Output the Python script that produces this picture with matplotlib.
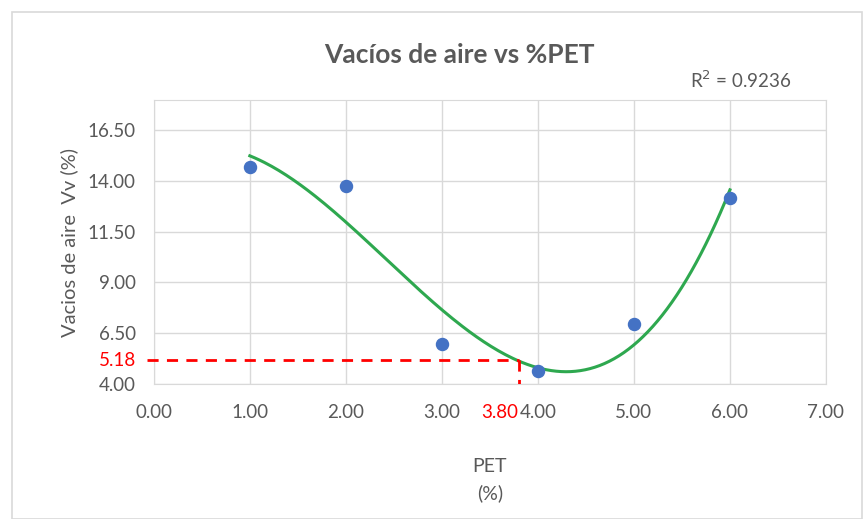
import numpy as np
import matplotlib
matplotlib.use("Agg")
import matplotlib.pyplot as plt
from matplotlib.patches import Rectangle

plt.rcParams['font.family'] = ['Lato', 'DejaVu Sans']

pet = [1.0, 2.0, 3.0, 4.0, 5.0, 6.0]
vacios = [14.69, 13.75, 5.96, 4.64, 6.94, 13.17]
x_ticks = [0, 1, 2, 3, 4, 5, 6, 7]
y_ticks = [4.0, 6.5, 9.0, 11.5, 14.0, 16.5]
opt_x = 3.80
opt_y = 5.18
r2_text = "R$^2$ = 0.9236"

fig = plt.figure(figsize=(8.64, 5.19), dpi=100)
ax = fig.add_axes([0.178, 0.260, 0.778, 0.547])

gray = '#595959'
grid = '#d9d9d9'

coef = np.polyfit(pet, vacios, 3)
xs = np.linspace(1, 6, 200)
ax.plot(xs, np.polyval(coef, xs), color='#2ea84f', lw=2.2, zorder=3)
ax.scatter(pet, vacios, s=75, color='#4472c4', zorder=4)

ax.plot([-0.07, opt_x], [opt_y, opt_y], color='#ff0000', lw=2, ls=(0, (4, 3)),
        zorder=5, clip_on=False)
ax.plot([opt_x, opt_x], [opt_y, 4.0], color='#ff0000', lw=2, ls=(0, (4, 3)), zorder=5)

ax.set_xlim(0, 7)
ax.set_ylim(4.0, 17.97)
ax.set_xticks(x_ticks)
ax.set_xticklabels([f"{v:.2f}" for v in x_ticks])
ax.set_yticks(y_ticks)
ax.set_yticklabels([f"{v:.2f}" for v in y_ticks])
ax.grid(True, color=grid, lw=1)
ax.set_axisbelow(True)
for s in ['top', 'right', 'left', 'bottom']:
    ax.spines[s].set_color(grid)
ax.tick_params(length=0, colors=gray, labelsize=13.5)
ax.tick_params(axis='y', pad=13)
ax.tick_params(axis='x', pad=14)

ax.annotate(f"{opt_y:.2f}", xy=(0, opt_y), xycoords=('axes fraction', 'data'),
            xytext=(-13, 0), textcoords='offset points',
            color='#ff0000', fontsize=13.5, ha='right', va='center', annotation_clip=False)
ax.annotate(f"{opt_x:.2f}", xy=(opt_x, 0), xycoords=('data', 'axes fraction'),
            xytext=(0, -14), textcoords='offset points',
            color='#ff0000', fontsize=13.5, ha='right', va='top', annotation_clip=False)

ax.set_ylabel("Vacios de aire  Vv (%)", color=gray, fontsize=14.5, labelpad=7)
ax.set_xlabel("PET\n(%)", color=gray, fontsize=14, labelpad=27, linespacing=1.65)

fig.text(0.532, 0.894, "Vacíos de aire vs %PET", ha='center', va='center',
         fontsize=19, fontweight='bold', color=gray)
fig.text(0.857, 0.846, r2_text, ha='center', va='center', fontsize=13.5, color=gray)

fig.patches.append(Rectangle((12/864, 0), 850/864, 1 - 12/519, transform=fig.transFigure,
                             fill=False, edgecolor='#d9d9d9', lw=1.2))

fig.savefig("out.png", dpi=100)
